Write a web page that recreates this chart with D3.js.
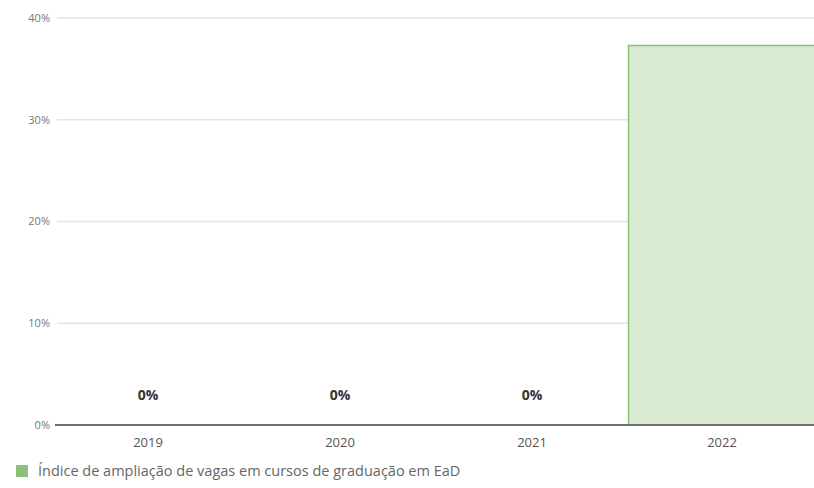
<!DOCTYPE html>
<html><head><meta charset="utf-8">
<script src="https://cdn.jsdelivr.net/npm/d3@7"></script>
<style>body{margin:0;background:#fff;}svg{display:block;font-family:"Open Sans",sans-serif;}</style>
</head><body>
<script>
const categories = ["2019","2020","2021","2022"];
const values = [0, 0, 0, 37.3];
const labels = ["0%","0%","0%",""];
const yTicks = [0,10,20,30,40];
const seriesName = "Índice de ampliação de vagas em cursos de graduação em EaD";

const W=814,H=488;
const svg=d3.select("body").append("svg").attr("width",W).attr("height",H);
const x=d3.scaleBand().domain(categories).range([52,820]).padding(0);
const y=d3.scaleLinear().domain([0,40]).range([425,18]);

// gridlines
svg.append("g").selectAll("line").data(yTicks.filter(d=>d>0)).join("line")
 .attr("x1",57).attr("x2",W).attr("y1",d=>y(d)).attr("y2",d=>y(d))
 .attr("stroke","#dfe3ea").attr("stroke-width",1.5);

// y axis labels
svg.append("g").selectAll("text").data(yTicks).join("text")
 .attr("x",50).attr("y",d=>y(d)).attr("dy","0.35em").attr("text-anchor","end")
 .attr("font-size",11).attr("fill","#777").text(d=>d+"%");

// bars
svg.append("g").selectAll("rect").data(values).join("rect")
 .attr("x",(d,i)=>x(categories[i])+0.5).attr("width",x.bandwidth())
 .attr("y",d=>y(d)).attr("height",d=>y(0)-y(d))
 .attr("fill","#dbead3").attr("stroke","#8cc07a").attr("stroke-width",1.5);

// baseline
svg.append("line").attr("x1",55).attr("x2",W).attr("y1",y(0)).attr("y2",y(0))
 .attr("stroke","#6b7566").attr("stroke-width",2);

// x labels
svg.append("g").selectAll("text").data(categories).join("text")
 .attr("x",d=>x(d)+x.bandwidth()/2-(d==="2022"?2:0)).attr("y",442).attr("dy","0.35em")
 .attr("text-anchor","middle").attr("font-size",13).attr("fill","#555").text(d=>d);

// value labels
svg.append("g").selectAll("text").data(values).join("text")
 .attr("x",(d,i)=>x(categories[i])+x.bandwidth()/2).attr("y",(d)=>y(d)-30).attr("dy","0.35em")
 .attr("text-anchor","middle").attr("font-size",14).attr("font-weight","bold").attr("fill","#333")
 .text((d,i)=>labels[i]);

// legend
svg.append("rect").attr("x",16).attr("y",465).attr("width",12).attr("height",12).attr("fill","#8cc07a");
svg.append("text").attr("x",38).attr("y",471).attr("dy","0.35em").attr("font-size",14.5).attr("fill","#666").text(seriesName);
</script>
</body></html>
